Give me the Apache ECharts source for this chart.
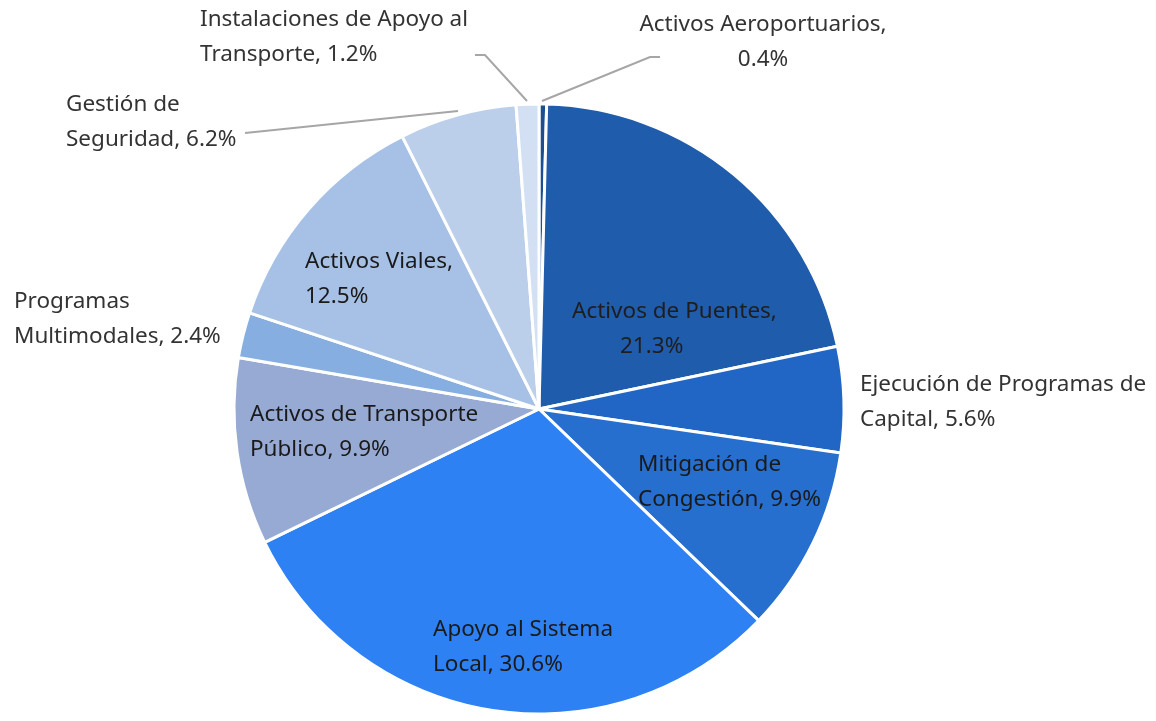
<!DOCTYPE html>
<html><head><meta charset="utf-8">
<script src="https://cdn.jsdelivr.net/npm/echarts@6/dist/echarts.min.js"></script>
<style>html,body{margin:0;padding:0;background:#fff}#c{width:1156px;height:721px}</style>
</head><body><div id="c"></div>
<script>
const categories = ["Activos Aeroportuarios","Activos de Puentes","Ejecución de Programas de Capital","Mitigación de Congestión","Apoyo al Sistema Local","Activos de Transporte Público","Programas Multimodales","Activos Viales","Gestión de Seguridad","Instalaciones de Apoyo al Transporte"];
const values = [0.4,21.3,5.6,9.9,30.6,9.9,2.4,12.5,6.2,1.2];
const labelTexts = ["Activos Aeroportuarios,\n0.4%","{a|Activos de Puentes,}\n{b|21.3%}","Ejecución de Programas de\nCapital, 5.6%","Mitigación de\nCongestión, 9.9%","Apoyo al Sistema\nLocal, 30.6%","Activos de Transporte\nPúblico, 9.9%","Programas\nMultimodales, 2.4%","Activos Viales,\n12.5%","Gestión de\nSeguridad, 6.2%","Instalaciones de Apoyo al\nTransporte, 1.2%"];
const colors = ["#1b4f91","#1f5cab","#2166c4","#266fce","#2e81f2","#97aad4","#86aee0","#a7c1e6","#bccfea","#d3e0f3"];
// label anchor positions (x, y, align)
const labelPos = [[763,42,'center'],[572,329,'left'],[860,402,'left'],[638,482,'left'],[433,647,'left'],[250,432,'left'],[14,319,'left'],[305,279,'left'],[66,122,'left'],[200,37,'left']];
const linePts = {0:[[542,101],[650,57],[660,57]],9:[[527,101],[485,55],[475,55]],8:[[458,111],[245,133]]};

const chart = echarts.init(document.getElementById('c'));
const fs = 22.5;
chart.setOption({
  animation:false,
  series:[{
    type:'pie',
    center:[539,409],
    radius:305,
    startAngle:90,
    clockwise:true,
    itemStyle:{borderColor:'#fff',borderWidth:3},
    label:{show:true,position:'outside',overflow:'none',fontFamily:'Noto Sans',fontSize:fs,color:'#1e1e1e',lineHeight:35,
      rich:{a:{fontFamily:'Noto Sans',fontSize:fs,color:'#1e1e1e',lineHeight:35},b:{fontFamily:'Noto Sans',fontSize:fs,color:'#1e1e1e',lineHeight:35,padding:[0,0,0,48]}}},
    labelLine:{show:true,lineStyle:{color:'#a6a6a6',width:2}},
    labelLayout:function(p){
      const i=p.dataIndex; const lp=labelPos[i];
      const r={x:lp[0],y:lp[1],align:lp[2],verticalAlign:'middle'};
      r.labelLinePoints = linePts[i] || [[0,0],[0,0]];
      return r;
    },
    data:categories.map((n,i)=>({name:n,value:values[i],itemStyle:{color:colors[i]},
      label:{formatter:labelTexts[i], overflow:'none', color: (i===0||i===2||i===6||i===8||i===9)?'#333':'#1a1a1a'},
      labelLine:{show: linePts[i]!==undefined}}))
  }]
});
</script></body></html>
